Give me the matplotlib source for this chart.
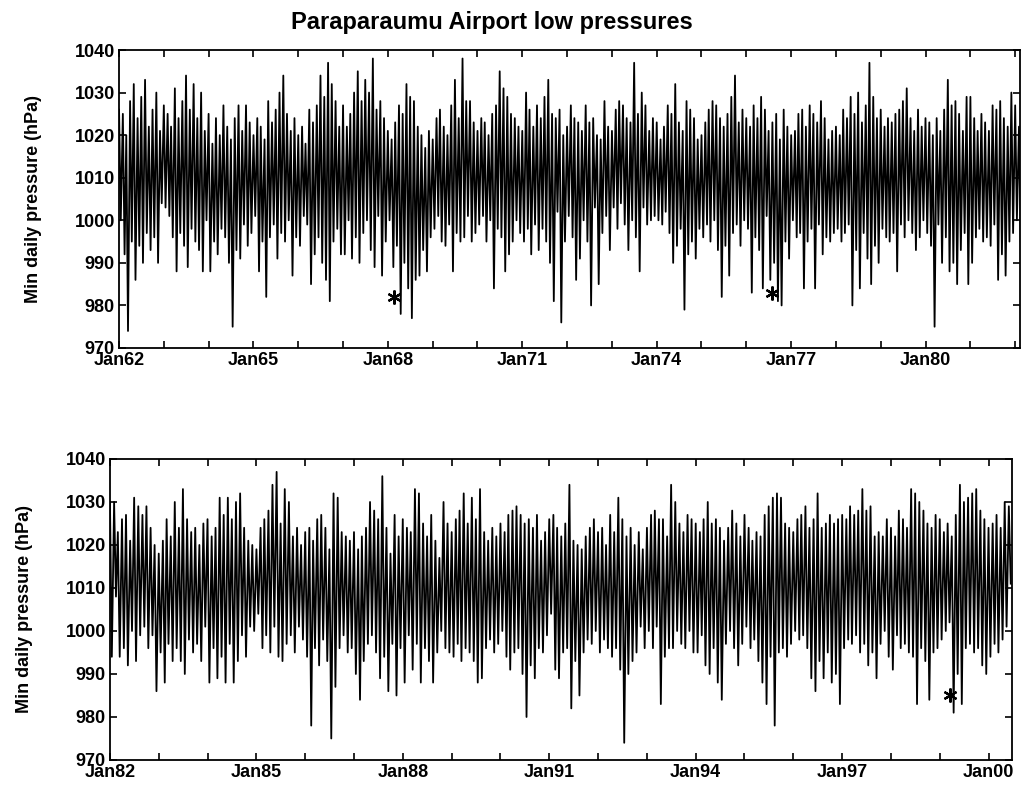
import numpy as np
import pandas as pd
import matplotlib
matplotlib.use('Agg')
import matplotlib.pyplot as plt

plt.rcParams['font.family'] = ['Liberation Sans', 'DejaVu Sans']
plt.rcParams['font.weight'] = 'bold'
plt.rcParams['axes.labelweight'] = 'bold'

# monthly high / low of the minimum daily pressure (hPa), Jan 1962 onwards
top_hi = [
    1026, 1025, 1020, 1028, 1032, 1024, 1029, 1033, 1022, 1026, 1030, 1021,
    1027, 1025, 1022, 1031, 1024, 1028, 1034, 1026, 1032, 1024, 1030, 1021,
    1025, 1018, 1024, 1020, 1027, 1022, 1019, 1024, 1027, 1021, 1027, 1023,
    1020, 1024, 1022, 1019, 1028, 1023, 1026, 1030, 1034, 1025, 1021, 1024,
    1020, 1022, 1018, 1026, 1023, 1027, 1034, 1029, 1037, 1032, 1028, 1022,
    1027, 1022, 1025, 1030, 1035, 1028, 1033, 1030, 1038, 1026, 1028, 1024,
    1021, 1019, 1023, 1027, 1025, 1032, 1029, 1028, 1022, 1020, 1017, 1021,
    1019, 1024, 1026, 1022, 1020, 1027, 1033, 1024, 1038, 1028, 1028, 1023,
    1021, 1024, 1023, 1020, 1025, 1027, 1035, 1031, 1029, 1025, 1024, 1022,
    1021, 1030, 1026, 1022, 1027, 1024, 1029, 1033, 1025, 1024, 1026, 1020,
    1022, 1027, 1024, 1023, 1021, 1027, 1023, 1024, 1020, 1019, 1028, 1022,
    1021, 1026, 1028, 1027, 1024, 1023, 1037, 1025, 1030, 1027, 1021, 1024,
    1023, 1019, 1022, 1027, 1025, 1032, 1023, 1021, 1028, 1026, 1024, 1019,
    1020, 1023, 1026, 1028, 1027, 1024, 1022, 1025, 1029, 1034, 1023, 1026,
    1024, 1022, 1027, 1024, 1029, 1026, 1021, 1023, 1025, 1019, 1026, 1022,
    1020, 1021, 1025, 1026, 1022, 1027, 1025, 1023, 1028, 1024, 1019, 1021,
    1022, 1020, 1026, 1024, 1029, 1025, 1030, 1023, 1027, 1037, 1029, 1024,
    1026, 1022, 1024, 1023, 1025, 1026, 1028, 1031, 1024, 1021, 1026, 1022,
    1024, 1023, 1020, 1024, 1021, 1026, 1033, 1027, 1028, 1025, 1021, 1029,
    1029, 1024, 1021, 1025, 1023, 1021, 1027, 1026, 1028, 1024, 1022, 1030,
    1027, 1022,
]
top_lo = [
    1000, 992, 974, 995, 986, 994, 990, 997, 993, 996, 990, 1004,
    1003, 1001, 996, 988, 997, 994, 989, 998, 995, 993, 988, 1000,
    988, 995, 992, 998, 996, 990, 975, 993, 991, 999, 994, 997,
    1001, 988, 995, 982, 996, 999, 991, 997, 995, 1000, 987, 996,
    994, 1001, 999, 985, 992, 996, 990, 986, 981, 995, 998, 992,
    992, 1000, 991, 996, 990, 997, 1000, 993, 989, 1001, 987, 995,
    1000, 989, 994, 978, 990, 984, 977, 986, 987, 993, 988, 996,
    998, 1001, 995, 994, 999, 988, 997, 995, 996, 1001, 995, 997,
    999, 1001, 995, 1000, 984, 998, 996, 988, 992, 995, 1000, 997,
    995, 998, 992, 999, 993, 998, 995, 990, 981, 1002, 976, 995,
    1001, 996, 986, 991, 1000, 995, 980, 1003, 985, 997, 1001, 993,
    1003, 998, 1004, 999, 993, 1000, 996, 988, 1003, 999, 1000, 1001,
    1000, 999, 1002, 997, 990, 994, 998, 979, 992, 995, 991, 998,
    996, 999, 995, 1000, 993, 982, 994, 987, 997, 999, 994, 1000,
    998, 983, 996, 993, 984, 1001, 986, 990, 981, 980, 995, 991,
    1000, 996, 997, 984, 995, 998, 984, 999, 992, 996, 995, 997,
    998, 995, 997, 999, 980, 993, 984, 997, 991, 985, 994, 990,
    998, 996, 995, 997, 988, 999, 996, 1000, 997, 993, 996, 1000,
    997, 994, 975, 999, 990, 996, 988, 990, 985, 993, 997, 985,
    990, 996, 998, 995, 996, 994, 999, 986, 992, 987, 995, 997,
    1000, 995,
]

# same, Jan 1982 onwards
bot_hi = [
    1030, 1030, 1023, 1026, 1027, 1021, 1031, 1029, 1027, 1029, 1024, 1020,
    1018, 1021, 1026, 1022, 1030, 1024, 1033, 1026, 1023, 1024, 1020, 1025,
    1026, 1022, 1024, 1031, 1027, 1031, 1026, 1030, 1032, 1024, 1021, 1020,
    1019, 1024, 1026, 1028, 1034, 1037, 1025, 1033, 1030, 1022, 1024, 1020,
    1023, 1024, 1021, 1026, 1027, 1024, 1019, 1032, 1031, 1023, 1022, 1021,
    1023, 1019, 1022, 1024, 1030, 1028, 1026, 1036, 1024, 1018, 1027,
    1022, 1026, 1024, 1023, 1033, 1032, 1025, 1022, 1027, 1021, 1017, 1030,
    1025, 1023, 1026, 1028, 1032, 1025, 1031, 1026, 1033, 1023, 1021, 1024,
    1022, 1025, 1023, 1027, 1028, 1029, 1027, 1025, 1026, 1024, 1027, 1021,
    1023, 1026, 1027, 1024, 1022, 1025, 1034, 1021, 1020, 1019, 1022, 1024,
    1026, 1023, 1024, 1020, 1027, 1023, 1031, 1026, 1022, 1024, 1020, 1023,
    1019, 1024, 1027, 1028, 1026, 1026, 1022, 1034, 1030, 1025, 1023, 1027,
    1026, 1025, 1023, 1026, 1030, 1025, 1026, 1024, 1021, 1024, 1028,
    1025, 1022, 1027, 1024, 1021, 1023, 1022, 1027, 1029, 1031, 1032, 1031,
    1025, 1024, 1023, 1026, 1027, 1029, 1024, 1026, 1032, 1024, 1025, 1027,
    1025, 1026, 1027, 1026, 1029, 1027, 1028, 1033, 1028, 1029, 1022,
    1023, 1022, 1026, 1024, 1022, 1028, 1026, 1024, 1033, 1032, 1030, 1028,
    1025, 1024, 1027, 1026, 1023, 1025, 1022, 1027, 1034, 1030, 1031, 1032,
    1033, 1028, 1026, 1024, 1025, 1027, 1024, 1030, 1029,
]
bot_lo = [
    994, 1008, 994, 996, 992, 1000, 993, 999, 1001, 996, 999, 986,
    995, 988, 997, 993, 996, 993, 990, 998, 995, 997, 993, 1001,
    988, 996, 989, 994, 988, 997, 988, 993, 999, 994, 1001, 1000,
    1004, 996, 999, 995, 1001, 994, 993, 997, 999, 995, 1001, 998,
    994, 978, 996, 992, 998, 993, 975, 987, 996, 999, 995, 996,
    990, 984, 993, 997, 999, 995, 989, 994, 986, 997, 985,
    996, 988, 999, 991, 997, 988, 996, 993, 988, 995, 1000, 996,
    995, 994, 997, 993, 996, 995, 993, 988, 989, 996, 998, 995,
    997, 1000, 994, 991, 995, 996, 990, 980, 992, 989, 996, 995,
    999, 1004, 991, 989, 995, 996, 982, 993, 985, 995, 998, 997,
    1000, 995, 998, 996, 994, 996, 991, 974, 990, 993, 995, 1001,
    996, 1000, 996, 1001, 983, 994, 996, 996, 1000, 997, 996, 1000,
    995, 995, 999, 992, 990, 996, 988, 984, 997, 1000, 996,
    992, 997, 1001, 996, 998, 993, 988, 983, 994, 978, 995, 996,
    994, 997, 1000, 998, 999, 996, 989, 986, 993, 989, 995, 988,
    990, 983, 996, 998, 997, 999, 995, 997, 992, 995, 989,
    997, 1000, 994, 991, 999, 996, 997, 995, 994, 983, 996, 993,
    984, 995, 996, 998, 1000, 1002, 981, 990, 983, 996, 997, 995,
    996, 992, 990, 994, 997, 995, 998, 1001, 1011,
]

# flagged lows
top_star_dates = ['1968-02-20', '1976-07-30']
top_star_vals = [982, 983]
bot_star_dates = ['1999-03-20']
bot_star_vals = [985]

panels = [
    dict(rect=[0.1166, 0.5595, 0.8825, 0.3772], start='1962-01-01', end='1982-02-10',
         hi=top_hi, lo=top_lo, sd=top_star_dates, sv=top_star_vals),
    dict(rect=[0.1077, 0.0380, 0.8834, 0.3810], start='1982-01-01', end='2000-06-24',
         hi=bot_hi, lo=bot_lo, sd=bot_star_dates, sv=bot_star_vals),
]

fig = plt.figure(figsize=(10.21, 7.90), dpi=100)

for p in panels:
    ax = fig.add_axes(p['rect'])

    vals = np.column_stack([p['hi'], p['lo']]).ravel()
    dates = pd.date_range(p['start'], periods=len(vals), freq='SMS')
    ax.plot(dates, vals, color='k', lw=1.3)
    ax.plot(pd.to_datetime(p['sd']), p['sv'], linestyle='none', marker=(6, 2, 0),
            color='k', ms=10, mew=1.6)

    start, end = pd.Timestamp(p['start']), pd.Timestamp(p['end'])
    ax.set_xlim(start, end)
    ax.set_ylim(970, 1040)
    ax.set_yticks(range(970, 1041, 10))

    years = pd.date_range(start, end, freq='YS')
    ax.set_xticks(years)
    ax.set_xticklabels(['Jan%02d' % (y.year % 100) if (y.year - start.year) % 3 == 0 else ''
                        for y in years])

    ax.tick_params(direction='in', top=True, right=True, length=5, width=1.2, labelsize=13)
    ax.tick_params(axis='x', pad=3)
    ax.tick_params(axis='y', pad=3)
    for s in ax.spines.values():
        s.set_linewidth(1.3)

    ax.set_ylabel('Min daily pressure (hPa)', fontsize=13, fontweight='bold')
    ax.yaxis.set_label_coords(-0.085, 0.5)

fig.text(0.482, 0.972, 'Paraparaumu Airport low pressures', ha='center', va='center',
         fontsize=17, fontweight='bold')

fig.savefig('out.png', dpi=100)
